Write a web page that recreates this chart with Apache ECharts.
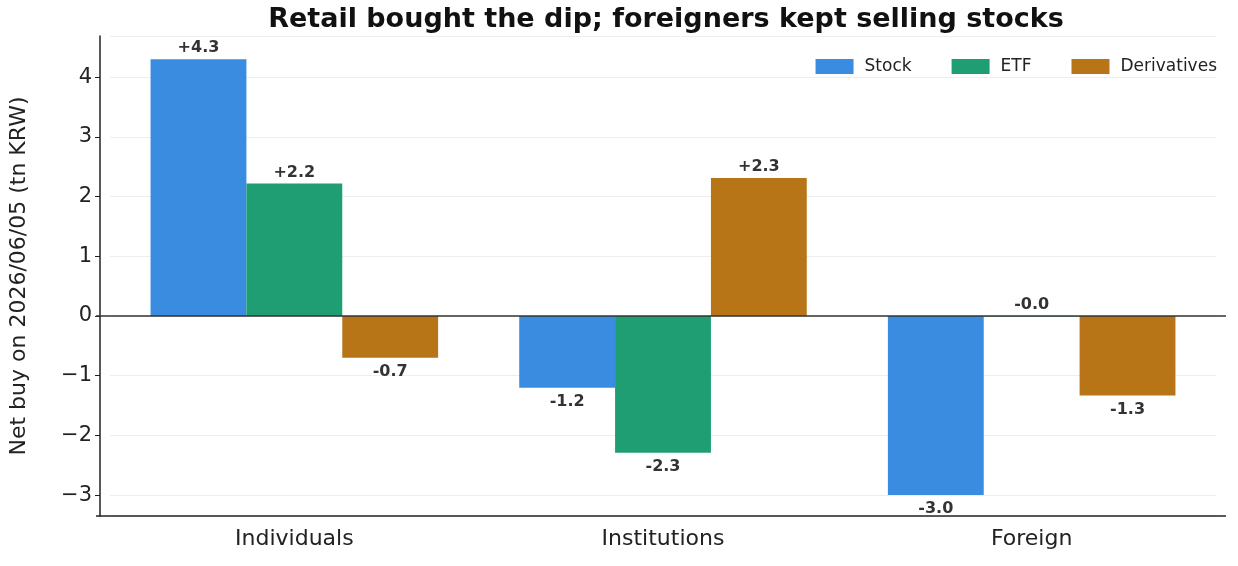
<!DOCTYPE html>
<html><head><meta charset="utf-8">
<script src="https://cdn.jsdelivr.net/npm/echarts@6/dist/echarts.min.js"></script>
<style>html,body{margin:0;padding:0;background:#fff}#c{width:1238px;height:566px}</style>
</head><body><div id="c"></div>
<script>
const categories = ['Individuals', 'Institutions', 'Foreign'];
const stock = [4.3, -1.2, -3.0];
const etf = [2.22, -2.29, -0.01];
const derivatives = [-0.7, 2.31, -1.33];
const etfLabels = ['+2.2', '-2.3', '-0.0'];

const fmt = v => (v > 0 ? '+' : '-') + Math.abs(v).toFixed(1);
const font = 'DejaVu Sans';
const minus = s => String(s).replace('-', '\u2212');

function series(name, vals, color, labels) {
    return {
        name, type: 'bar', barWidth: '26%', barGap: '0%',
        itemStyle: { color },
        data: vals.map((v, i) => {
            const top = v >= 0 || (labels && labels[i] === '-0.0');
            return {
                value: v,
                label: {
                    show: true,
                    position: top ? 'top' : 'bottom',
                    distance: top ? 3 : 6,
                    formatter: () => labels ? labels[i] : fmt(v),
                    fontFamily: font, fontWeight: 'bold', fontSize: 16, color: '#333'
                }
            };
        })
    };
}

const chart = echarts.init(document.getElementById('c'));
chart.setOption({
    animation: false,
    textStyle: { fontFamily: font },
    title: {
        text: 'Retail bought the dip; foreigners kept selling stocks',
        left: 661, textAlign: 'center', top: 1,
        textStyle: { fontFamily: font, fontWeight: 'bold', fontSize: 27, color: '#111' }
    },
    legend: {
        right: 16, top: 53, itemWidth: 38, itemHeight: 15, itemGap: 40, icon: 'rect',
        textStyle: { fontFamily: font, fontSize: 17, color: '#222', padding: [0, 0, 0, 6] },
        data: ['Stock', 'ETF', 'Derivatives']
    },
    grid: { left: 106, right: 22, top: 36, bottom: 50 },
    xAxis: {
        type: 'category', data: categories,
        axisLine: { show: false },
        axisTick: { alignWithLabel: true, length: 5, lineStyle: { color: '#222' } },
        axisLabel: { fontSize: 22, color: '#222', margin: 12 }
    },
    yAxis: {
        type: 'value', min: -3.35, max: 4.69, splitNumber: 8, offset: 10,
        name: 'Net buy on 2026/06/05 (tn KRW)', nameLocation: 'middle', nameGap: 70,
        nameTextStyle: { fontSize: 22, color: '#222' },
        axisLine: { show: true, lineStyle: { color: '#222', width: 1.5 } },
        axisTick: { show: true, length: 5, lineStyle: { color: '#222' } },
        axisLabel: { fontSize: 21, color: '#222', showMinLabel: false, showMaxLabel: false, formatter: v => minus(v) },
        splitLine: { lineStyle: { color: '#eee' } }
    },
    series: [
        series('Stock', stock, '#3a8ce0'),
        series('ETF', etf, '#1f9e74', etfLabels),
        series('Derivatives', derivatives, '#b87518')
    ]
});
// axis frame lines spanning the full plot width (bars sit inset like matplotlib margins)
const y0 = chart.convertToPixel({ yAxisIndex: 0 }, 0);
chart.setOption({
    graphic: [
        { type: 'line', shape: { x1: 96, y1: 516, x2: 1226, y2: 516 }, style: { stroke: '#222', lineWidth: 1.5 }, z: 10 },
        { type: 'line', shape: { x1: 96, y1: y0, x2: 1226, y2: y0 }, style: { stroke: '#333', lineWidth: 1.5 }, z: 10 },
        { type: 'rect', shape: { x: 96, y: 0, width: 0, height: 0 } }
    ]
});
</script></body></html>
